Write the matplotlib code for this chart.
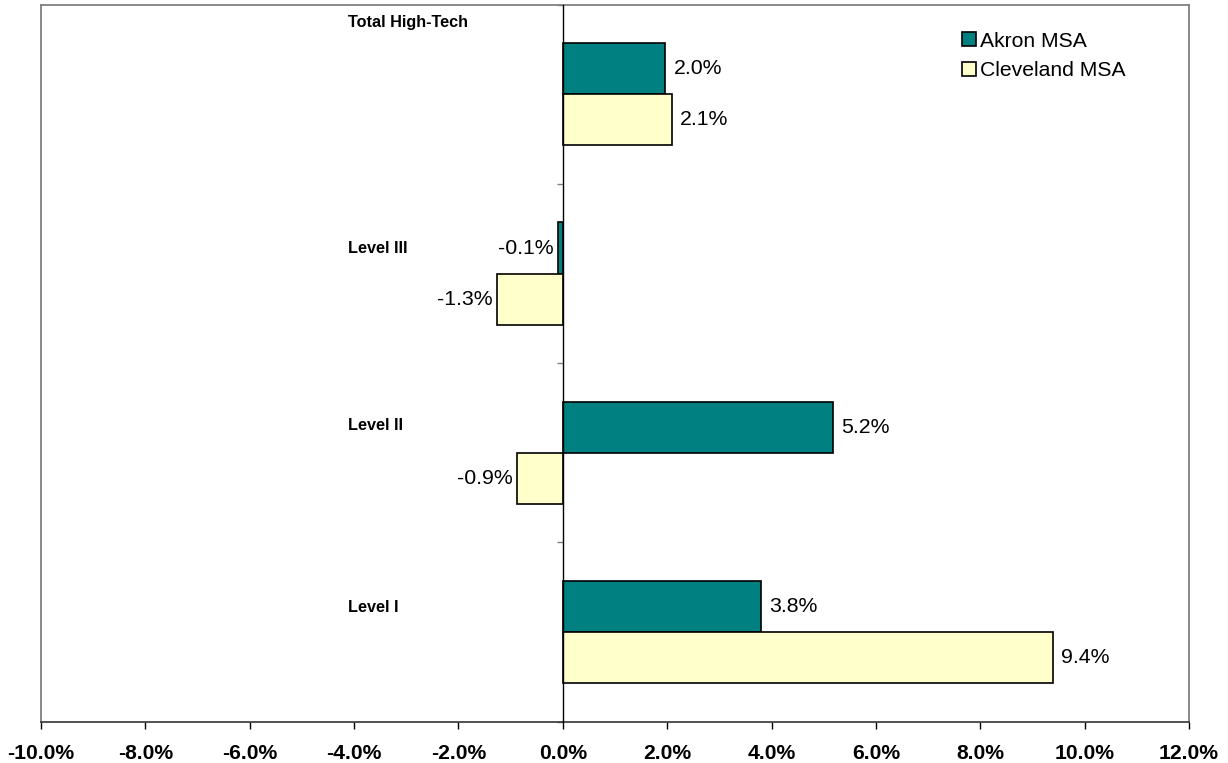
import matplotlib
matplotlib.use("Agg")
import matplotlib.pyplot as plt
import numpy as np

plt.rcParams["font.family"] = ["Liberation Sans", "DejaVu Sans"]

# data (bottom to top)
categories = ["Level I", "Level II", "Level III", "Total High-Tech"]
akron = [3.79, 5.17, -0.10, 1.96]
cleveland = [9.39, -0.88, -1.26, 2.09]
series_names = ["Akron MSA", "Cleveland MSA"]
xticks = [-10, -8, -6, -4, -2, 0, 2, 4, 6, 8, 10, 12]

# style
TEAL = "#008080"
CREAM = "#FFFFCC"
FRAME = "#808080"
BAR_H = 0.285
LABEL_X = -4.12
LABEL_DY = [0.135, 0.152, 0.141, 0.398]

fig = plt.figure(figsize=(12.28, 7.63), dpi=100)
ax = fig.add_axes([41 / 1228, 1 - 721.7 / 763, 1148 / 1228, (721.7 - 4.7) / 763])

y = np.arange(len(categories))
bars_a = ax.barh(
    y + BAR_H / 2,
    akron,
    height=BAR_H,
    color=TEAL,
    edgecolor="black",
    linewidth=1.2,
    label=series_names[0],
    zorder=3,
)
bars_c = ax.barh(
    y - BAR_H / 2,
    cleveland,
    height=BAR_H,
    color=CREAM,
    edgecolor="black",
    linewidth=1.2,
    label=series_names[1],
    zorder=3,
)

for bars, vals in [(bars_a, akron), (bars_c, cleveland)]:
    for b, v in zip(bars, vals):
        yc = b.get_y() + b.get_height() / 2
        txt = f"{v:.1f}%"
        if v >= 0:
            ax.annotate(txt, (v, yc), xytext=(6, 0), textcoords="offset points",
                        ha="left", va="center", fontsize=15.3)
        else:
            ax.annotate(txt, (v, yc), xytext=(-3, 0), textcoords="offset points",
                        ha="right", va="center", fontsize=15.3)

for i, cat in enumerate(categories):
    ax.text(LABEL_X, i + LABEL_DY[i], cat, ha="left", va="center",
            fontsize=11.7, fontweight="bold")

ax.set_xlim(-10, 12)
ax.set_ylim(-0.5, len(categories) - 0.5)
ax.set_xticks(xticks)
ax.set_xticklabels([f"{t:.1f}%" for t in xticks], fontsize=15.2, fontweight="bold")
ax.set_yticks(np.arange(-0.5, len(categories), 1.0))
ax.set_yticklabels([])

ax.spines["left"].set_position(("data", 0))
ax.spines["left"].set_color("black")
ax.spines["left"].set_linewidth(1.0)
ax.spines["left"].set_zorder(4)
ax.spines["bottom"].set_color("#333333")
ax.spines["bottom"].set_linewidth(1.2)
ax.spines["top"].set_color(FRAME)
ax.spines["top"].set_linewidth(1.3)
ax.spines["right"].set_color(FRAME)
ax.spines["right"].set_linewidth(1.3)
ax.axvline(-10, color=FRAME, linewidth=1.3, clip_on=False)

ax.tick_params(axis="x", direction="out", length=5, width=1, color="black", pad=11)
ax.tick_params(axis="y", direction="out", length=4.5, width=1, color=FRAME)

ax.legend(
    loc="upper left",
    bbox_to_anchor=((962 - 41) / 1148, 1 - 27 / 717),
    frameon=False,
    fontsize=15.2,
    handlelength=0.65,
    handleheight=0.65,
    handletextpad=0.2,
    labelspacing=0.5,
    borderpad=0,
    borderaxespad=0,
)

fig.savefig("out.png", dpi=100)
